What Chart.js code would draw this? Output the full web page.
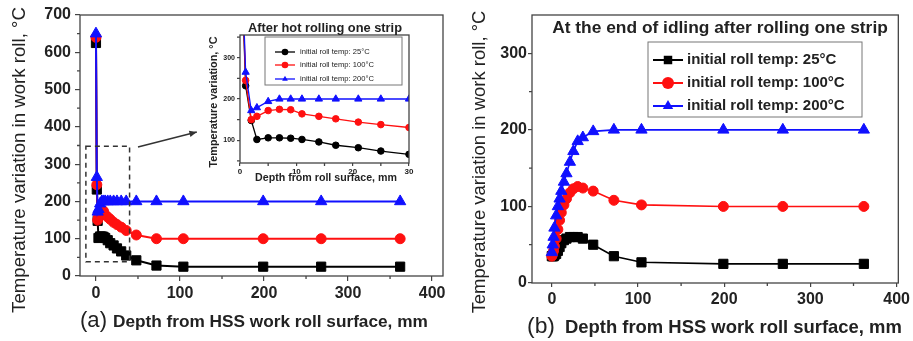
<!DOCTYPE html>
<html>
<head>
<meta charset="utf-8">
<script src="https://cdn.jsdelivr.net/npm/chart.js@4.4.1/dist/chart.umd.min.js"></script>
<style>
  body { margin: 0; background: #fff; width: 913px; height: 341px; overflow: hidden; position: relative; }
  .box { position: absolute; }
</style>
</head>
<body>
<div class="box" style="left:0;top:0;width:460px;height:341px"><canvas id="hotChart"></canvas></div>
<div class="box" style="left:195px;top:15px;width:225px;height:175px"><canvas id="insetChart"></canvas></div>
<div class="box" style="left:455px;top:0;width:458px;height:341px"><canvas id="idleChart"></canvas></div>
<script>
// depth from roll surface, mm
const depth = [0, 1, 2, 3, 5, 7, 9, 11, 14, 17, 21, 25, 30, 36, 48, 72, 104, 199, 268, 362];

// (a) after hot rolling one strip, degC
const hot25  = [625, 232, 148, 102, 106, 106, 105, 102, 96, 88, 82, 74, 66, 55, 42, 28, 25, 25, 25, 25];
const hot100 = [640, 245, 150, 158, 172, 175, 174, 164, 158, 152, 144, 138, 131, 122, 110, 100, 100, 100, 100, 100];
const hot200 = [650, 265, 172, 179, 194, 200, 200, 200, 200, 200, 200, 200, 200, 200, 200, 200, 200, 200, 200, 200];

// (b) at the end of idling after rolling one strip, degC
const idle25  = [35, 35, 35, 36, 38, 42, 47, 52, 56, 58, 60, 60, 60, 58, 50, 35, 27, 25, 25, 25];
const idle100 = [35, 38, 42, 48, 58, 70, 82, 92, 102, 110, 118, 123, 126, 124, 120, 108, 102, 100, 100, 100];
const idle200 = [40, 50, 60, 72, 88, 100, 110, 120, 132, 143, 158, 172, 185, 190, 198, 200, 200, 200, 200, 200];

const seriesLabels = ['initial roll temp: 25°C', 'initial roll temp: 100°C', 'initial roll temp: 200°C'];

const xTicksMain = [0, 100, 200, 300, 400];
const yTicksHot = [0, 100, 200, 300, 400, 500, 600, 700];
const yTicksIdle = [0, 100, 200, 300];
const xTicksInset = [0, 10, 20, 30];
const yTicksInset = [100, 200, 300];

const FAM = "'Liberation Sans', Arial, sans-serif";
const INK = '#222';
const BLACK = '#000000', RED = '#ff1010', BLUE = '#1010ff';

Chart.defaults.font.family = FAM;
Chart.defaults.color = INK;

function series(label, vals, color, style, r, lw, order) {
  return {
    label: label,
    data: depth.map((d, i) => ({ x: d, y: vals[i] })),
    borderColor: color,
    backgroundColor: color,
    pointStyle: style,
    pointRadius: r,
    pointBorderWidth: 1,
    borderWidth: lw,
    tension: 0,
    order: order
  };
}

function marker(ctx, style, x, y, r, color) {
  ctx.beginPath();
  if (style === 'rect') {
    const s = r * Math.SQRT1_2;
    ctx.rect(x - s, y - s, 2 * s, 2 * s);
  } else if (style === 'triangle') {
    for (let k = 0; k < 3; k++) {
      const a = k * 2 * Math.PI / 3;
      const px = x + Math.sin(a) * r, py = y - Math.cos(a) * r;
      if (k === 0) ctx.moveTo(px, py); else ctx.lineTo(px, py);
    }
    ctx.closePath();
  } else {
    ctx.arc(x, y, r, 0, 2 * Math.PI);
  }
  ctx.fillStyle = color;
  ctx.fill();
}

// box round the plot plus minor ticks
function makeFrame(minorX, minorY) {
  return {
    id: 'frame',
    afterDraw(chart) {
      const a = chart.chartArea, ctx = chart.ctx;
      const xs = chart.scales.x, ys = chart.scales.y;
      ctx.save();
      ctx.strokeStyle = '#444';
      ctx.lineWidth = 1.3;
      ctx.strokeRect(a.left, a.top, a.right - a.left, a.bottom - a.top);
      ctx.beginPath();
      minorX.forEach(v => {
        const px = xs.getPixelForValue(v);
        ctx.moveTo(px, a.bottom); ctx.lineTo(px, a.bottom + 3);
      });
      minorY.forEach(v => {
        const py = ys.getPixelForValue(v);
        ctx.moveTo(a.left, py); ctx.lineTo(a.left - 3, py);
      });
      ctx.stroke();
      ctx.restore();
    }
  };
}

// free text: titles and captions
function makeTexts(items) {
  return {
    id: 'texts',
    afterDraw(chart) {
      const ctx = chart.ctx;
      items.forEach(t => {
        ctx.save();
        const weight = t.bold ? 'bold ' : '';
        let size = t.size || 12;
        ctx.font = weight + size + 'px ' + FAM;
        if (t.w) {
          size = size * t.w / ctx.measureText(t.text).width;
          ctx.font = weight + size.toFixed(2) + 'px ' + FAM;
        }
        ctx.fillStyle = t.color || INK;
        ctx.textAlign = t.align || 'center';
        ctx.textBaseline = 'middle';
        ctx.translate(t.x, t.y);
        if (t.rot) ctx.rotate(t.rot * Math.PI / 180);
        ctx.fillText(t.text, 0, 0);
        ctx.restore();
      });
    }
  };
}

// Origin-style legend: line + marker + text, inside a grey box
function makeLegend(cfg) {
  return {
    id: 'boxLegend',
    afterDraw(chart) {
      const ctx = chart.ctx;
      ctx.save();
      ctx.fillStyle = '#fff';
      const b = cfg.box;
      ctx.fillRect(b[0], b[1], b[2] - b[0], b[3] - b[1]);
      ctx.strokeStyle = '#777';
      ctx.lineWidth = 1;
      ctx.strokeRect(b[0], b[1], b[2] - b[0], b[3] - b[1]);
      chart.data.datasets.forEach((ds, i) => {
        const y = cfg.rows[i];
        ctx.strokeStyle = ds.borderColor;
        ctx.lineWidth = cfg.lw;
        ctx.beginPath();
        ctx.moveTo(cfg.lineX[0], y); ctx.lineTo(cfg.lineX[1], y);
        ctx.stroke();
        marker(ctx, ds.pointStyle, (cfg.lineX[0] + cfg.lineX[1]) / 2, y, cfg.r, ds.borderColor);
        ctx.font = (cfg.bold ? 'bold ' : '') + cfg.size + 'px ' + FAM;
        ctx.fillStyle = INK;
        ctx.textAlign = 'left';
        ctx.textBaseline = 'middle';
        ctx.fillText(ds.label, cfg.textX, y);
      });
      ctx.restore();
    }
  };
}

// dashed zoom box and arrow pointing to the inset
const zoomMark = {
  id: 'zoomMark',
  afterDraw(chart) {
    const xs = chart.scales.x, ys = chart.scales.y, ctx = chart.ctx;
    const x1 = xs.getPixelForValue(-12), x2 = xs.getPixelForValue(40);
    const y1 = ys.getPixelForValue(348), y2 = ys.getPixelForValue(38);
    ctx.save();
    ctx.strokeStyle = '#333';
    ctx.lineWidth = 1.5;
    ctx.setLineDash([5, 4]);
    ctx.strokeRect(x1, y1, x2 - x1, y2 - y1);
    ctx.setLineDash([]);
    const ax = xs.getPixelForValue(50), ay = ys.getPixelForValue(346);
    const bx = xs.getPixelForValue(120), by = ys.getPixelForValue(386);
    ctx.beginPath();
    ctx.moveTo(ax, ay); ctx.lineTo(bx, by);
    ctx.stroke();
    const ang = Math.atan2(by - ay, bx - ax);
    ctx.beginPath();
    ctx.moveTo(bx, by);
    ctx.lineTo(bx - 8 * Math.cos(ang - 0.4), by - 8 * Math.sin(ang - 0.4));
    ctx.lineTo(bx - 8 * Math.cos(ang + 0.4), by - 8 * Math.sin(ang + 0.4));
    ctx.closePath();
    ctx.fillStyle = '#333';
    ctx.fill();
    ctx.restore();
  }
};

function axis(min, max, ticks, opt) {
  return {
    type: 'linear',
    min: min,
    max: max,
    afterBuildTicks: s => { s.ticks = ticks.map(v => ({ value: v })); },
    afterFit: s => { if (opt.w) s.width = opt.w; if (opt.h) s.height = opt.h; },
    grid: { drawOnChartArea: false, drawTicks: true, tickLength: opt.tick, color: '#444', lineWidth: 1.2 },
    border: { display: false },
    ticks: { font: { size: opt.size, weight: 'bold' }, color: INK, padding: opt.pad, maxRotation: 0, autoSkip: false,
             callback: v => String(v) }
  };
}

function baseOptions(pad, x, y) {
  return {
    responsive: true,
    maintainAspectRatio: false,
    animation: false,
    layout: { padding: pad },
    plugins: { legend: { display: false }, tooltip: { enabled: false } },
    scales: { x: x, y: y }
  };
}

// (a) main panel
new Chart(document.getElementById('hotChart'), {
  type: 'line',
  data: {
    datasets: [
      series(seriesLabels[0], hot25, BLACK, 'rect', 6.5, 2, 3),
      series(seriesLabels[1], hot100, RED, 'circle', 5, 2, 2),
      series(seriesLabels[2], hot200, BLUE, 'triangle', 6.5, 2, 1)
    ]
  },
  options: baseOptions({ left: 0, top: 15, right: 17, bottom: 0 },
    axis(-19, 413, xTicksMain, { h: 65, tick: 5, size: 16, pad: 3 }),
    axis(0, 700, yTicksHot, { w: 80, tick: 5, size: 16, pad: 4 })),
  plugins: [
    makeFrame([50, 150, 250, 350], [50, 150, 250, 350, 450, 550, 650]),
    zoomMark,
    makeTexts([
      { text: 'Temperature variation in work roll, °C', x: 20, y: 160, w: 306, size: 17, rot: -90 },
      { text: '(a)', x: 80, y: 321, w: 27, size: 20, align: 'left' },
      { text: 'Depth from HSS work roll surface, mm', x: 113, y: 322, w: 315, size: 15, bold: true, align: 'left' }
    ])
  ]
});

// inset of (a): first 30 mm
new Chart(document.getElementById('insetChart'), {
  type: 'line',
  data: {
    datasets: [
      series(seriesLabels[0], hot25, BLACK, 'circle', 3.3, 1.3, 3),
      series(seriesLabels[1], hot100, RED, 'circle', 3.3, 1.3, 2),
      series(seriesLabels[2], hot200, BLUE, 'triangle', 4.2, 1.3, 1)
    ]
  },
  options: baseOptions({ left: 0, top: 20, right: 11, bottom: 0 },
    axis(0, 30, xTicksInset, { h: 27, tick: 3, size: 8, pad: 1 }),
    axis(45, 355, yTicksInset, { w: 45, tick: 3, size: 7, pad: 2 })),
  plugins: [
    makeFrame([5, 15, 25], [50, 150, 250, 350]),
    makeLegend({ box: [70, 22, 207, 70], rows: [37, 50, 64], lineX: [80, 100], textX: 105, size: 7.6, bold: false, r: 3.3, lw: 1.3 }),
    makeTexts([
      { text: 'After hot rolling one strip', x: 130, y: 13, w: 154, size: 12, bold: true },
      { text: 'Temperature variation, °C', x: 19, y: 87, w: 131, size: 9, bold: true, rot: -90 },
      { text: 'Depth from roll surface, mm', x: 131, y: 163, w: 142, size: 9, bold: true }
    ])
  ]
});

// (b) end of idling
new Chart(document.getElementById('idleChart'), {
  type: 'line',
  data: {
    datasets: [
      series(seriesLabels[0], idle25, BLACK, 'rect', 6.5, 1.6, 3),
      series(seriesLabels[1], idle100, RED, 'circle', 5, 1.6, 2),
      series(seriesLabels[2], idle200, BLUE, 'triangle', 6.5, 1.6, 1)
    ]
  },
  options: baseOptions({ left: 0, top: 15, right: 11, bottom: 0 },
    axis(-23, 402, xTicksMain, { h: 58, tick: 4, size: 16, pad: 3 }),
    axis(0, 350, yTicksIdle, { w: 77, tick: 4, size: 16, pad: 1 })),
  plugins: [
    makeFrame([50, 150, 250, 350], [50, 150, 250]),
    makeLegend({ box: [193, 42, 407, 117], rows: [60, 83, 106], lineX: [198, 228], textX: 232, size: 15, bold: true, r: 6, lw: 2 }),
    makeTexts([
      { text: 'At the end of idling after rolling one strip', x: 265, y: 28, w: 336, size: 14, bold: true },
      { text: 'Temperature variation in work roll, °C', x: 25, y: 162, w: 303, size: 17, rot: -90 },
      { text: '(b)', x: 72, y: 327, w: 28, size: 20, align: 'left' },
      { text: 'Depth from HSS work roll surface, mm', x: 110, y: 328, w: 337, size: 15, bold: true, align: 'left' }
    ])
  ]
});
</script>
</body>
</html>
